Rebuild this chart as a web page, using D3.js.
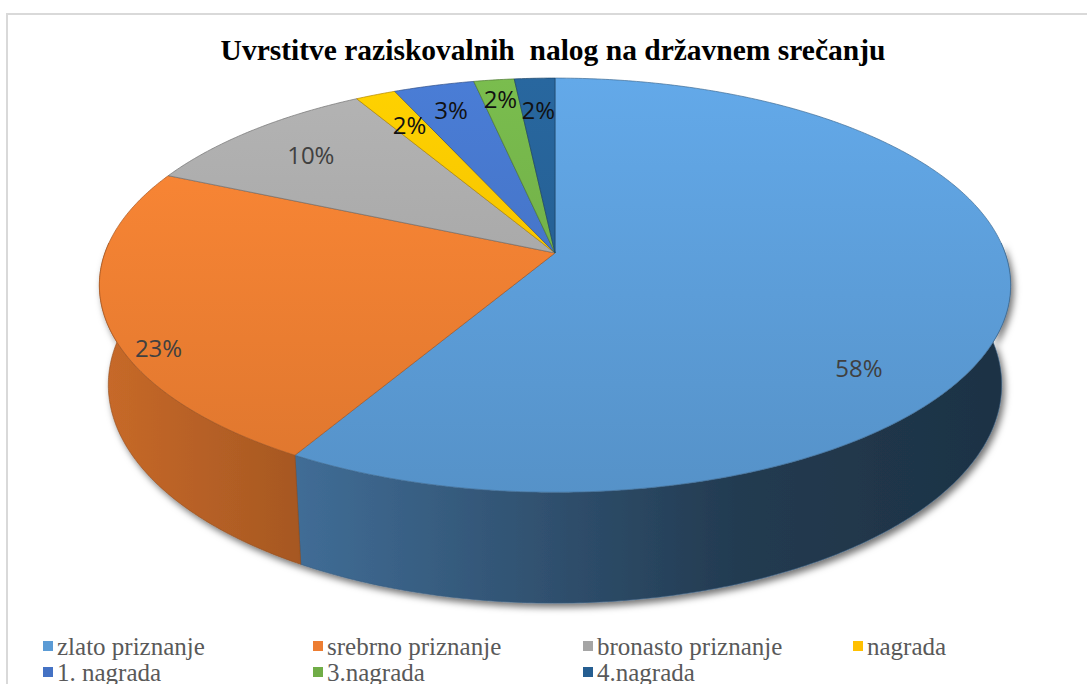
<!DOCTYPE html>
<html>
<head>
<meta charset="utf-8">
<script src="https://cdn.jsdelivr.net/npm/d3@7"></script>
<style>
  body { margin: 0; background: #fff; }
  svg { display: block; }
  .serif { font-family: "Liberation Serif", "DejaVu Serif", "Times New Roman", serif; }
</style>
</head>
<body>
<div id="chart"></div>
<script>
// data (counts out of 60 give the shown percentages)
var categories = ["zlato priznanje", "srebrno priznanje", "bronasto priznanje", "nagrada", "1. nagrada", "3.nagrada", "4.nagrada"];
var counts = [35, 14, 6, 1, 2, 1, 1];
var colors = ["#5B9BD5", "#ED7D31", "#A5A5A5", "#FFC000", "#4472C4", "#70AD47", "#255E91"];
var title = "Uvrstitve raziskovalnih\u00A0 nalog na državnem srečanju";

// label placement: [angle in degrees or null = slice middle, radius fraction]
var labelSpots = [[130, 0.81], [242, 0.93], [null, 0.79], [null, 0.79], [null, 0.84], [null, 0.88], [null, 0.80]];

var width = 1087, height = 684;

// 3D perspective setup for the tilted pie
var cam = {cx: 555, cy: 253, s: 2588, d: 5.75, sinA: 0.449, cosA: 0.893, depth: 0.25};

function proj(theta, r, y) {
    var X = r * Math.sin(theta), Z = r * Math.cos(theta);
    var yp = Z * cam.sinA + y * cam.cosA;
    var w = cam.d + Z * cam.cosA - y * cam.sinA;
    return [cam.cx + cam.s * X / w, cam.cy - cam.s * yp / w];
}

function arcPoints(a0, a1, y) {
    var n = Math.max(2, Math.ceil((a1 - a0) / 0.01));
    return d3.range(n + 1).map(function(i) { return proj(a0 + (a1 - a0) * i / n, 1, y); });
}

function shade(c, k) {
    var rgb = d3.rgb(c);
    return d3.rgb(rgb.r * k, rgb.g * k, rgb.b * k).formatHex();
}

var svg = d3.select("#chart").append("svg")
    .attr("width", width)
    .attr("height", height);

var defs = svg.append("defs");

var shadow = defs.append("filter").attr("id", "shadow")
    .attr("x", "-10%").attr("y", "-10%").attr("width", "120%").attr("height", "130%");
shadow.append("feDropShadow")
    .attr("dx", 3).attr("dy", 4).attr("stdDeviation", 3.5)
    .attr("flood-color", "#000").attr("flood-opacity", 0.55);

colors.forEach(function(c, i) {
    var top = defs.append("linearGradient").attr("id", "top" + i)
        .attr("gradientUnits", "userSpaceOnUse")
        .attr("x1", 0).attr("y1", 78).attr("x2", 0).attr("y2", 600);
    top.append("stop").attr("offset", 0).attr("stop-color", d3.color(c).brighter(0.25).formatHex());
    top.append("stop").attr("offset", 1).attr("stop-color", shade(c, 0.9));

    var side = defs.append("linearGradient").attr("id", "side" + i)
        .attr("gradientUnits", "userSpaceOnUse")
        .attr("x1", 105).attr("y1", 0).attr("x2", 1005).attr("y2", 0);
    side.append("stop").attr("offset", 0).attr("stop-color", shade(c, 0.84));
    side.append("stop").attr("offset", 0.25).attr("stop-color", shade(c, 0.68));
    side.append("stop").attr("offset", 0.7).attr("stop-color", shade(c, 0.38));
    side.append("stop").attr("offset", 1).attr("stop-color", shade(c, 0.32));
});

// chart border
svg.append("rect")
    .attr("x", 7).attr("y", 14)
    .attr("width", width + 20).attr("height", height + 20)
    .attr("fill", "none")
    .attr("stroke", "#D9D9D9")
    .attr("stroke-width", 2);

// title
svg.append("text")
    .attr("class", "serif")
    .attr("x", 553).attr("y", 60)
    .attr("text-anchor", "middle")
    .style("font-weight", "bold")
    .style("font-size", "29.5px")
    .attr("fill", "#000")
    .text(title);

var pie = d3.pie().sort(null).value(function(d) { return d; });
var slices = pie(counts);
var total = d3.sum(counts);
var line = d3.line();

// side walls (front half only)
var walls = svg.append("g").attr("filter", "url(#shadow)");
slices.forEach(function(d, i) {
    var lo = Math.max(d.startAngle, Math.PI / 2 - 0.05);
    var hi = Math.min(d.endAngle, 3 * Math.PI / 2 + 0.05);
    if (lo >= hi) return;
    var pts = arcPoints(lo, hi, 0).concat(arcPoints(lo, hi, -cam.depth).reverse());
    walls.append("path")
        .attr("d", line(pts) + "Z")
        .attr("fill", "url(#side" + i + ")")
        .attr("stroke", shade(colors[i], 0.6))
        .attr("stroke-width", 0.6);
});

// top faces
var tops = svg.append("g");
slices.forEach(function(d, i) {
    var pts = [proj(0, 0, 0)].concat(arcPoints(d.startAngle, d.endAngle, 0));
    tops.append("path")
        .attr("d", line(pts) + "Z")
        .attr("fill", "url(#top" + i + ")")
        .attr("stroke", shade(colors[i], 0.7))
        .attr("stroke-width", 0.7)
        .attr("stroke-linejoin", "round");
});

// data labels
var pct = d3.format(".0%");
slices.forEach(function(d, i) {
    var spot = labelSpots[i];
    var a = spot[0] === null ? (d.startAngle + d.endAngle) / 2 : spot[0] * Math.PI / 180;
    var p = proj(a, spot[1], 0);
    svg.append("text")
        .attr("x", p[0]).attr("y", p[1])
        .attr("text-anchor", "middle")
        .attr("dominant-baseline", "central")
        .style("font-family", "'Open Sans', sans-serif")
        .style("font-size", "24px")
        .attr("fill", i < 3 ? "#404040" : "#111")
        .text(pct(d.value / total));
});

// legend
var legend = svg.append("g").attr("class", "legend");
var colW = 270, rowH = 26, perRow = 4;
categories.forEach(function(name, i) {
    var col = i % perRow, row = Math.floor(i / perRow);
    var g = legend.append("g")
        .attr("transform", "translate(" + (57 + col * colW) + "," + (655 + row * rowH) + ")");
    g.append("rect")
        .attr("x", -14).attr("y", -14)
        .attr("width", 10).attr("height", 10)
        .attr("fill", colors[i]);
    g.append("text")
        .attr("class", "serif")
        .attr("x", 0).attr("y", 0)
        .style("font-size", "25px")
        .attr("fill", "#595959")
        .text(name);
});
</script>
</body>
</html>
